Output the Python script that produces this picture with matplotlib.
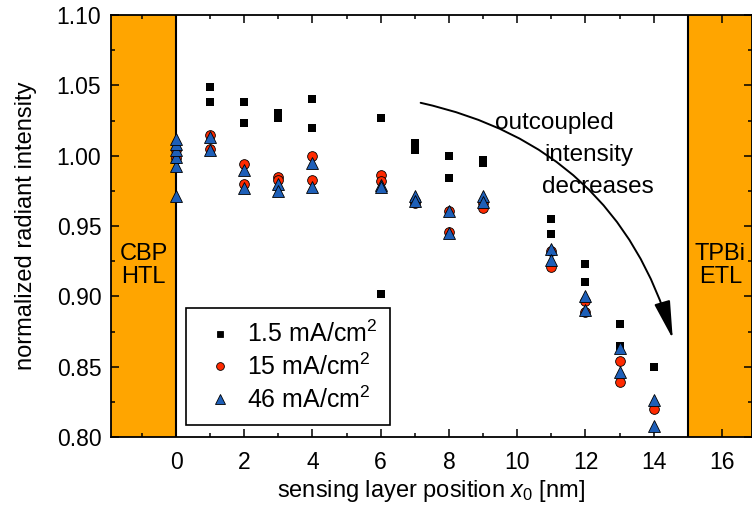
import matplotlib
matplotlib.use("Agg")
import matplotlib.pyplot as plt
from matplotlib.ticker import MultipleLocator, FixedLocator, FormatStrFormatter
from matplotlib.patches import FancyArrowPatch, ArrowStyle

plt.rcParams['font.family'] = ['Liberation Sans', 'DejaVu Sans']
plt.rcParams['mathtext.fontset'] = 'custom'
plt.rcParams['mathtext.it'] = 'Liberation Sans:italic'
plt.rcParams['mathtext.rm'] = 'Liberation Sans'

# sensing layer positions [nm] and normalized radiant intensity per current density
x_low = [0, 0, 1, 1, 2, 2, 3, 3, 4, 4, 6, 6, 7, 7, 8, 8, 9, 9, 11, 11, 12, 12, 13, 13, 14]
y_low = [0.997, 1.003, 1.049, 1.038, 1.038, 1.023, 1.030, 1.027, 1.040, 1.020,
         1.027, 0.902, 1.009, 1.004, 1.000, 0.984, 0.997, 0.995, 0.955, 0.944,
         0.923, 0.910, 0.880, 0.865, 0.850]

x_mid = [0, 0, 1, 1, 2, 2, 3, 3, 4, 4, 6, 6, 7, 7, 8, 8, 9, 9, 11, 11, 12, 12, 13, 13, 14]
y_mid = [0.998, 1.004, 1.015, 1.005, 0.994, 0.980, 0.985, 0.983, 1.000, 0.983,
         0.986, 0.982, 0.968, 0.966, 0.961, 0.946, 0.966, 0.963, 0.932, 0.921,
         0.897, 0.889, 0.854, 0.839, 0.820]

x_high = [0, 0, 0, 0, 0, 0, 1, 1, 2, 2, 3, 3, 4, 4, 6, 6, 7, 7, 8, 8, 9, 9,
          11, 11, 12, 12, 13, 13, 14, 14]
y_high = [0.993, 0.999, 1.004, 1.008, 1.012, 0.971, 1.013, 1.004, 0.990, 0.977,
          0.980, 0.975, 0.995, 0.978, 0.979, 0.978, 0.971, 0.968, 0.961, 0.945,
          0.971, 0.967, 0.934, 0.926, 0.900, 0.890, 0.863, 0.846, 0.826, 0.808]

labels = [r'1.5 mA/cm$^2$', r'15 mA/cm$^2$', r'46 mA/cm$^2$']

x_lim = (-1.905, 16.88)
y_lim = (0.80, 1.10)
orange = '#FFA500'
fs = 16.5

fig = plt.figure(figsize=(7.52, 5.08), dpi=100)
ax = fig.add_axes([111 / 752, 71 / 508, 641 / 752, 422 / 508])

# organic transport layers on either side of the emission zone
ax.axvspan(x_lim[0], 0, color=orange, zorder=0, lw=0)
ax.axvspan(15, x_lim[1], color=orange, zorder=0, lw=0)
ax.axvline(0, color='black', lw=1.5, zorder=1)
ax.axvline(15, color='black', lw=1.5, zorder=1)

ax.plot(x_low, y_low, ls='none', marker='s', ms=6, color='black',
        mec='black', mew=0, label=labels[0], zorder=3)
ax.plot(x_mid, y_mid, ls='none', marker='o', ms=7, color='#FF2A00',
        mec='black', mew=0.6, label=labels[1], zorder=4)
ax.plot(x_high, y_high, ls='none', marker='^', ms=8.5, color='#1E5FB8',
        mec='black', mew=0.6, label=labels[2], zorder=5)

ax.set_xlim(*x_lim)
ax.set_ylim(*y_lim)
ax.xaxis.set_major_locator(FixedLocator(list(range(0, 17, 2))))
ax.xaxis.set_minor_locator(FixedLocator(list(range(-1, 17, 1))))
ax.yaxis.set_major_locator(MultipleLocator(0.05))
ax.yaxis.set_minor_locator(MultipleLocator(0.025))
ax.yaxis.set_major_formatter(FormatStrFormatter('%.2f'))
ax.tick_params(which='both', direction='in', top=True, right=True,
               labelsize=fs, width=1.1)
ax.tick_params(which='major', length=6)
ax.tick_params(which='minor', length=3)
ax.tick_params(axis='x', which='major', pad=10)
ax.tick_params(axis='y', which='major', pad=7)
for sp in ax.spines.values():
    sp.set_linewidth(1.3)

ax.set_xlabel(r'sensing layer position $x_0$ [nm]', fontsize=17, labelpad=3)
ax.set_ylabel('normalized radiant intensity', fontsize=17, labelpad=14)

ax.text(-0.95, 0.922, 'CBP\nHTL', ha='center', va='center', fontsize=17,
        linespacing=1.1)
ax.text(15.95, 0.922, 'TPBi\nETL', ha='center', va='center', fontsize=17,
        linespacing=1.1)

ax.text(11.1, 1.0235, 'outcoupled', ha='center', va='center', fontsize=17.5)
ax.text(12.1, 1.0005, 'intensity', ha='center', va='center', fontsize=17.5)
ax.text(12.35, 0.978, 'decreases', ha='center', va='center', fontsize=17.5)

arrow = FancyArrowPatch((7.09, 1.038), (14.58, 0.868),
                        connectionstyle='arc3,rad=-0.3',
                        arrowstyle=ArrowStyle('-|>', head_length=1.3, head_width=0.28),
                        mutation_scale=18, lw=1.4, color='black', zorder=6)
ax.add_patch(arrow)

leg = ax.legend(loc='lower left', bbox_to_anchor=(0.117, 0.028), borderaxespad=0,
                fontsize=18, frameon=True, fancybox=False, edgecolor='black',
                framealpha=1, handletextpad=0.25, borderpad=0.5, labelspacing=0.25,
                handlelength=1.7, markerscale=0.8)
leg.get_frame().set_linewidth(1.2)
for h in leg.legend_handles:
    h.set_markeredgewidth(0.6)

fig.savefig('out.png', dpi=100)
